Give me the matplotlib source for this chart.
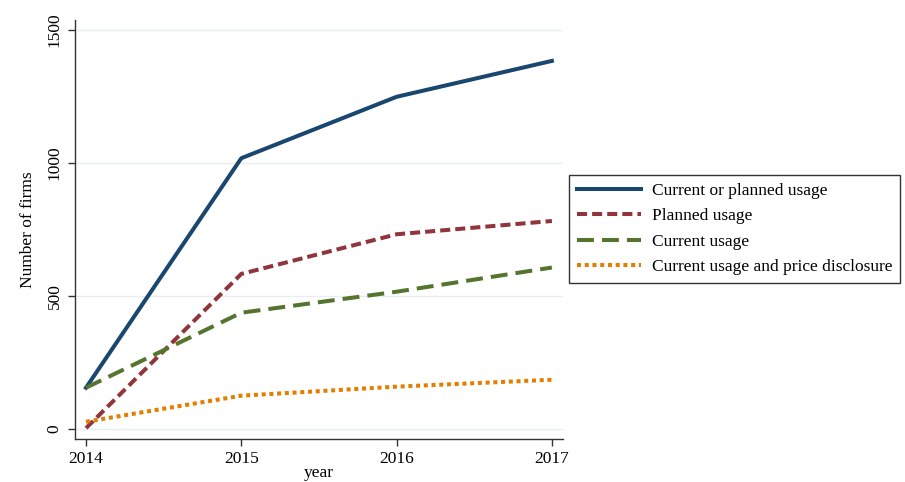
import matplotlib.pyplot as plt

plt.rcParams['font.family'] = ['Liberation Serif', 'DejaVu Serif']

years = [2014, 2015, 2016, 2017]
current_or_planned = [154, 1017, 1248, 1383]
planned = [2, 582, 731, 781]
current = [154, 436, 515, 606]
current_price = [26, 124, 158, 184]

labels = ["Current or planned usage", "Planned usage", "Current usage",
          "Current usage and price disclosure"]

fig = plt.figure(figsize=(9.05, 4.82), dpi=100)
ax = fig.add_axes([0.0825, 0.0886, 0.5395, 0.870])

lw = 2.9
ax.plot(years, current_or_planned, color='#1a476f', lw=lw, label=labels[0])
ax.plot(years, planned, color='#90353b', lw=lw, dashes=(2.5, 1.25), label=labels[1])
ax.plot(years, current, color='#55752f', lw=lw, dashes=(4.2, 2.0), label=labels[2])
ax.plot(years, current_price, color='#e37e00', lw=lw, dashes=(1.0, 0.92), label=labels[3])

ax.set_xlim(2013.927, 2017.071)
ax.set_ylim(-40, 1537)
ax.set_xticks(years)
ax.set_yticks([0, 500, 1000, 1500])
ax.yaxis.grid(True, color='#e6eef0', lw=1)
ax.set_axisbelow(True)
for s in ['top', 'right']:
    ax.spines[s].set_visible(False)
for s in ['left', 'bottom']:
    ax.spines[s].set_color('#333333')
    ax.spines[s].set_linewidth(1)
ax.tick_params(length=5, width=1, color='#333333', labelsize=12.5)
plt.setp(ax.get_yticklabels(), rotation=90, va='center')
ax.set_xlabel('year', fontsize=12.5, labelpad=-1.5)
ax.set_ylabel('Number of firms', fontsize=12.5, labelpad=8)

leg = fig.legend(loc='center left', bbox_to_anchor=(0.629, 0.525), fontsize=12.5,
                 fancybox=False, framealpha=1, edgecolor='#333333',
                 handlelength=3.7, handletextpad=0.62, borderpad=0.45,
                 borderaxespad=0, labelspacing=0.52)
leg.get_frame().set_linewidth(1)

fig.savefig('out.png', dpi=100)
